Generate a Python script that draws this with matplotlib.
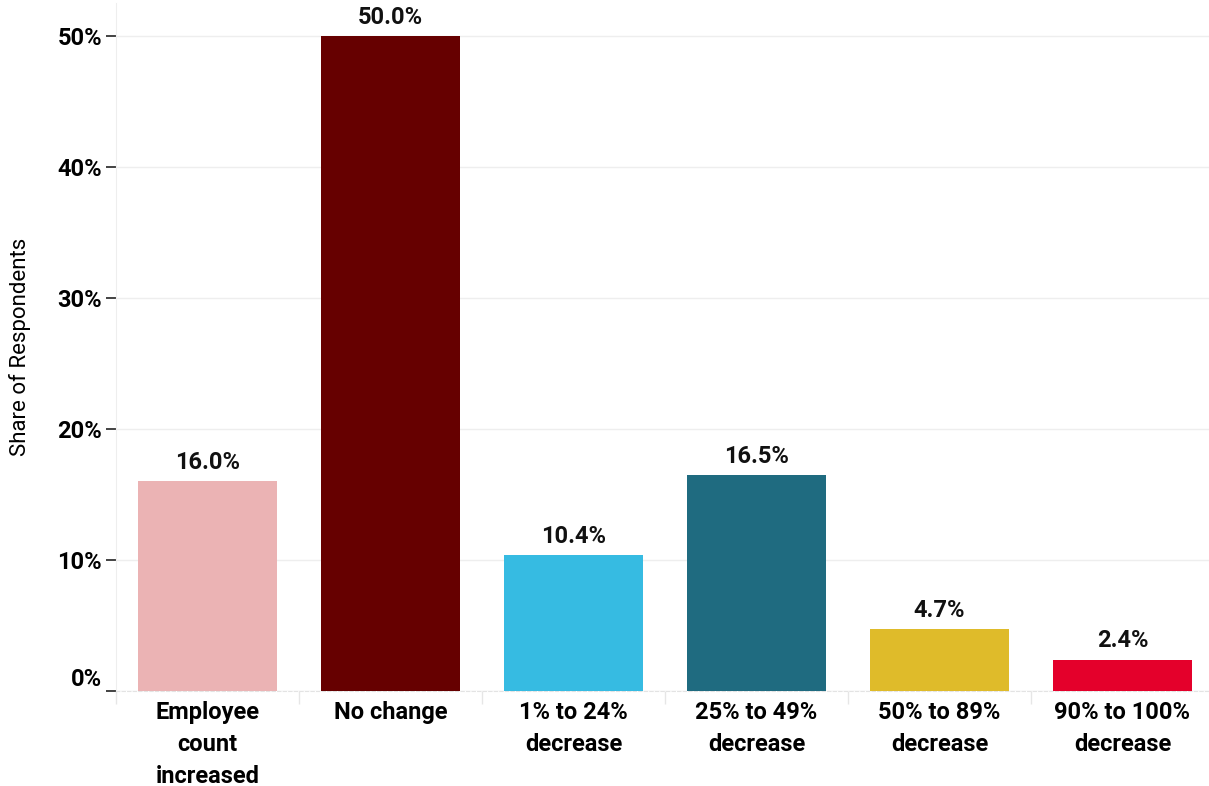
import matplotlib.pyplot as plt
from matplotlib.ticker import FuncFormatter

categories = ["Employee\ncount\nincreased", "No change", "1% to 24%\ndecrease",
              "25% to 49%\ndecrease", "50% to 89%\ndecrease", "90% to 100%\ndecrease"]
shares = [16.0, 50.0, 10.4, 16.5, 4.7, 2.4]
colors = ["#EBB3B4", "#660000", "#36BBE2", "#1F6B80", "#DFBB2A", "#E4002B"]

plt.rcParams['font.family'] = ['Roboto', 'DejaVu Sans']

fig = plt.figure(figsize=(12.09, 7.86), dpi=100)
ax = fig.add_axes([116 / 1209, 95 / 786, 1098 / 1209, 688 / 786])

x = list(range(len(categories)))
bars = ax.bar(x, shares, width=0.755, color=colors, zorder=3)

for b, v in zip(bars, shares):
    ax.text(b.get_x() + b.get_width() / 2, v + 0.55, f"{v:.1f}%", ha="center", va="bottom",
            fontsize=17, fontweight="bold", color="#111111")

ax.set_xlim(-0.5, 5.5)
ax.set_ylim(0, 52.5)
ax.set_yticks([0, 10, 20, 30, 40, 50])
ax.yaxis.set_major_formatter(FuncFormatter(lambda v, p: f"{v:.0f}%"))
ax.set_xticks(x)
ax.set_xticklabels(categories, fontsize=17, fontweight="bold", linespacing=1.5, va="top")
ax.set_xticks([i - 0.5 for i in range(len(categories) + 1)], minor=True)

ax.tick_params(axis="y", labelsize=17, length=7, width=1.2, color="#222222", pad=3)
for lab in ax.get_yticklabels():
    lab.set_fontweight("bold")
ax.get_yticklabels()[0].set_verticalalignment("bottom")
ax.tick_params(axis="x", which="major", length=0, pad=7)
ax.tick_params(axis="x", which="minor", length=9, width=1, color="#E6E6E6")

ax.grid(axis="y", color="#EEEEEE", linewidth=1, zorder=0)
for s in ["top", "right"]:
    ax.spines[s].set_visible(False)
ax.spines["left"].set_color("#EEEEEE")
ax.spines["bottom"].set_color("#E3E3E3")
ax.spines["bottom"].set_linestyle((0, (3, 2)))

ax.set_ylabel("Share of Respondents", fontsize=16)
ax.yaxis.set_label_coords(-0.077, 0.5)

fig.savefig("out.png", dpi=100)
